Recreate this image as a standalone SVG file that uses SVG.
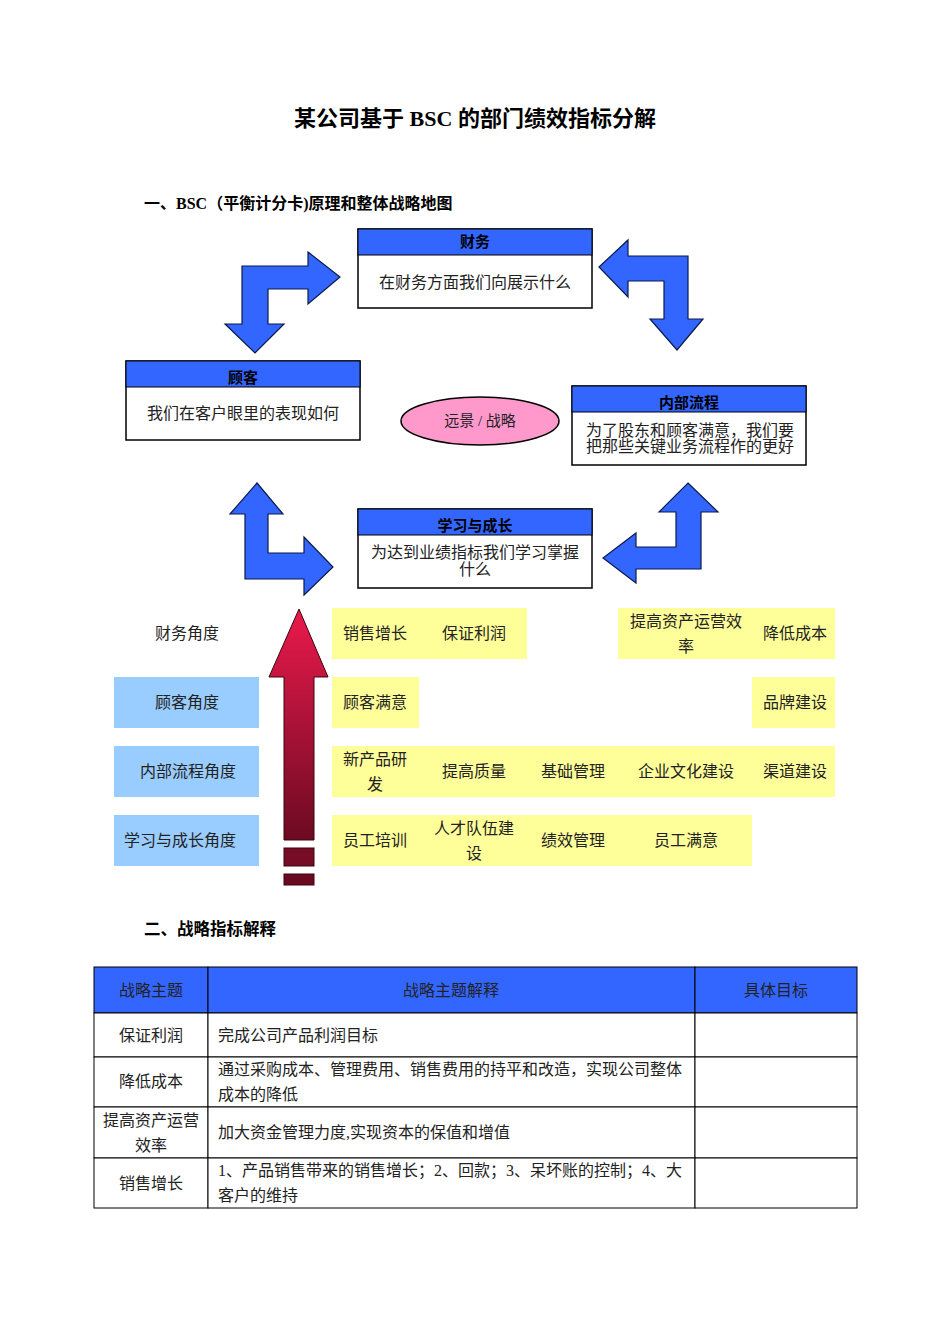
<svg xmlns="http://www.w3.org/2000/svg" width="950" height="1344" viewBox="0 0 950 1344">
<defs>
<linearGradient id="redg" x1="0" y1="0" x2="0" y2="1">
<stop offset="0" stop-color="#EA1A4C"/>
<stop offset="1" stop-color="#6C0A22"/>
</linearGradient>
<style>
text{font-family:"Liberation Serif","Noto Sans CJK SC",serif;fill:#222;dominant-baseline:central;}
.t{font-size:16px;text-anchor:middle;}
.l{font-size:16px;text-anchor:start;}
.h{font-size:15px;font-weight:bold;text-anchor:middle;fill:#000;}
.box{fill:#fff;stroke:#000;stroke-width:1.5;}
.hdr{fill:#3366FF;stroke:#000;stroke-width:1;}
.barrow{fill:#3366FF;stroke:#0B1A4A;stroke-width:1.2;stroke-linejoin:miter;}
.y{fill:#FFFF99;}
.b{fill:#99CCFF;}
.cell{fill:#fff;stroke:#000;stroke-width:1;}
.th{fill:#3366FF;stroke:#000;stroke-width:1;}
</style>
</defs>
<rect width="950" height="1344" fill="#fff"/>

<text x="475" y="118" style="font-size:22px;font-weight:bold;text-anchor:middle;fill:#000;">某公司基于 BSC 的部门绩效指标分解</text>
<text x="144" y="203" style="font-size:16px;font-weight:bold;fill:#000;">一、BSC（平衡计分卡)原理和整体战略地图</text>

<g id="connectors">
<polygon class="barrow" points="242,266 308,266 308,252 340,277 308,304 308,289 268,289 268,324 284,324 255,353 225,324 242,324"/>
<polygon class="barrow" points="599,267 628,240 628,256 688,256 688,319 703,319 677,350 650,319 664,319 664,281 628,281 628,297"/>
<polygon class="barrow" points="257,483 283,514 268,514 268,553 304,553 304,537 333,567 304,595 304,579 245,579 245,514 230,514"/>
<polygon class="barrow" points="688,483 718,512 701,512 701,569 636,569 636,583 603,558 636,533 636,547 676,547 676,512 659,512"/>
<polygon points="299,609 328,677 314,677 314,840 284,840 284,677 269,677" fill="url(#redg)" stroke="#3A0510" stroke-width="1"/>
<rect x="284" y="848" width="30" height="18" fill="#760C26" stroke="#3A0510" stroke-width="1"/>
<rect x="284" y="874" width="30" height="11" fill="#6A0A20" stroke="#3A0510" stroke-width="1"/>
</g>

<g id="node-finance">
<rect class="box" x="358" y="229" width="234" height="79"/>
<rect class="hdr" x="358" y="229" width="234" height="26"/>
<text class="h" x="475" y="242">财务</text>
<text class="t" x="475" y="282">在财务方面我们向展示什么</text>
</g>

<g id="node-customer">
<rect class="box" x="126" y="361" width="234" height="79"/>
<rect class="hdr" x="126" y="361" width="234" height="26"/>
<text class="h" x="243" y="378">顾客</text>
<text class="t" x="243" y="413">我们在客户眼里的表现如何</text>
</g>

<g id="node-vision">
<ellipse cx="480" cy="421" rx="79" ry="24" fill="#FF99CC" stroke="#000" stroke-width="1.5"/>
<text class="t" x="480" y="421" style="font-size:15px;">远景 / 战略</text>
</g>

<g id="node-process">
<rect class="box" x="572" y="386" width="234" height="79"/>
<rect class="hdr" x="572" y="386" width="234" height="26"/>
<text class="h" x="689" y="403">内部流程</text>
<text class="t" x="690" y="430">为了股东和顾客满意，我们要</text>
<text class="t" x="690" y="446">把那些关键业务流程作的更好</text>
</g>

<g id="node-learning">
<rect class="box" x="358" y="509" width="234" height="79"/>
<rect class="hdr" x="358" y="509" width="234" height="26"/>
<text class="h" x="475" y="526">学习与成长</text>
<text class="t" x="475" y="552">为达到业绩指标我们学习掌握</text>
<text class="t" x="475" y="569">什么</text>
</g>

<g id="perspectives">
<text class="t" x="187" y="633">财务角度</text>
<rect class="b" x="114" y="677" width="145" height="51"/>
<text class="t" x="187" y="702">顾客角度</text>
<rect class="b" x="114" y="746" width="145" height="51"/>
<text class="t" x="188" y="771">内部流程角度</text>
<rect class="b" x="114" y="815" width="145" height="51"/>
<text class="t" x="180" y="840">学习与成长角度</text>
</g>

<g id="row-finance">
<rect class="y" x="332" y="608" width="195" height="51"/>
<rect class="y" x="618" y="608" width="217" height="51"/>
<text class="t" x="375" y="633">销售增长</text>
<text class="t" x="474" y="633">保证利润</text>
<text class="t" x="686" y="621">提高资产运营效</text>
<text class="t" x="686" y="646">率</text>
<text class="t" x="795" y="633">降低成本</text>
</g>

<g id="row-customer">
<rect class="y" x="332" y="677" width="87" height="51"/>
<rect class="y" x="752" y="677" width="83" height="51"/>
<text class="t" x="375" y="702">顾客满意</text>
<text class="t" x="795" y="702">品牌建设</text>
</g>

<g id="row-process">
<rect class="y" x="332" y="746" width="503" height="51"/>
<text class="t" x="375" y="759">新产品研</text>
<text class="t" x="375" y="784">发</text>
<text class="t" x="474" y="771">提高质量</text>
<text class="t" x="573" y="771">基础管理</text>
<text class="t" x="686" y="771">企业文化建设</text>
<text class="t" x="795" y="771">渠道建设</text>
</g>

<g id="row-learning">
<rect class="y" x="332" y="815" width="420" height="51"/>
<text class="t" x="375" y="840">员工培训</text>
<text class="t" x="474" y="828">人才队伍建</text>
<text class="t" x="474" y="853">设</text>
<text class="t" x="573" y="840">绩效管理</text>
<text class="t" x="686" y="840">员工满意</text>
</g>

<text x="144" y="929" style="font-size:16.5px;font-weight:bold;fill:#000;">二、战略指标解释</text>

<g id="table">
<rect class="th" x="94" y="967" width="114" height="46"/>
<rect class="th" x="208" y="967" width="487" height="46"/>
<rect class="th" x="695" y="967" width="162" height="46"/>
<text class="t" x="151" y="990">战略主题</text>
<text class="t" x="451" y="990">战略主题解释</text>
<text class="t" x="776" y="990">具体目标</text>

<rect class="cell" x="94" y="1013" width="114" height="44"/>
<rect class="cell" x="208" y="1013" width="487" height="44"/>
<rect class="cell" x="695" y="1013" width="162" height="44"/>
<text class="t" x="151" y="1035">保证利润</text>
<text class="l" x="218" y="1035">完成公司产品利润目标</text>

<rect class="cell" x="94" y="1057" width="114" height="50"/>
<rect class="cell" x="208" y="1057" width="487" height="50"/>
<rect class="cell" x="695" y="1057" width="162" height="50"/>
<text class="t" x="151" y="1081">降低成本</text>
<text class="l" x="218" y="1069">通过采购成本、管理费用、销售费用的持平和改造，实现公司整体</text>
<text class="l" x="218" y="1094">成本的降低</text>

<rect class="cell" x="94" y="1107" width="114" height="51"/>
<rect class="cell" x="208" y="1107" width="487" height="51"/>
<rect class="cell" x="695" y="1107" width="162" height="51"/>
<text class="t" x="151" y="1120">提高资产运营</text>
<text class="t" x="151" y="1145">效率</text>
<text class="l" x="218" y="1132">加大资金管理力度,实现资本的保值和增值</text>

<rect class="cell" x="94" y="1158" width="114" height="50"/>
<rect class="cell" x="208" y="1158" width="487" height="50"/>
<rect class="cell" x="695" y="1158" width="162" height="50"/>
<text class="t" x="151" y="1183">销售增长</text>
<text class="l" x="218" y="1170">1、产品销售带来的销售增长；2、回款；3、呆坏账的控制；4、大</text>
<text class="l" x="218" y="1195">客户的维持</text>
</g>
</svg>
